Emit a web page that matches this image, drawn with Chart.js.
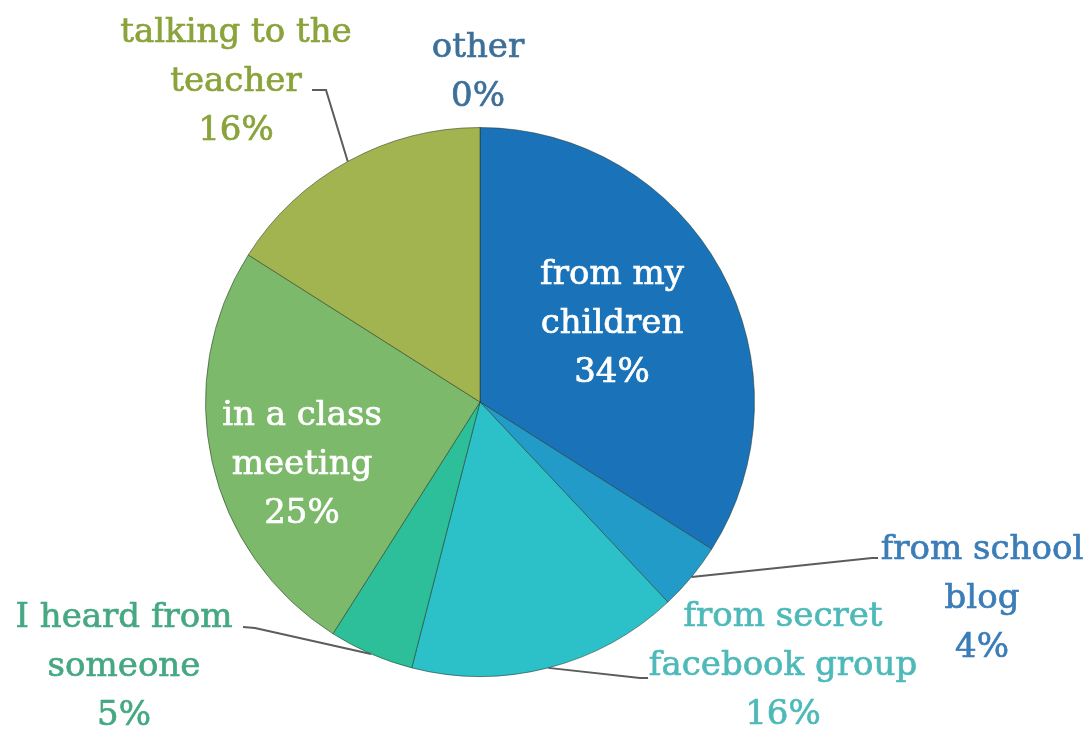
<!DOCTYPE html>
<html>
<head>
<meta charset="utf-8">
<script src="https://cdn.jsdelivr.net/npm/chart.js@4"></script>
<style>
  html, body { margin: 0; padding: 0; background: #fff; }
  canvas { display: block; }
</style>
</head>
<body>
<canvas id="pie" width="1092" height="732"></canvas>
<script>
// Data
const categories = ['from my children', 'from school blog', 'from secret facebook group',
  'I heard from someone', 'in a class meeting', 'talking to the teacher', 'other'];
const shares = [34, 4, 16, 5, 25, 16, 0];
const sliceColors = ['#1a73b9', '#229bc9', '#2cc0c8', '#2dbf99', '#7cb96a', '#a2b44f', '#2f6d9b'];

// Where each label's text goes (lines, centre x, first baseline y, colour, leader elbow)
const labelLayout = [
  { lines: ['from my', 'children', '34%'], x: 612, y: 284, color: '#ffffff' },
  { lines: ['from school', 'blog', '4%'], x: 982, y: 559, color: '#3a7db8', elbow: [[872, 558], [878, 558]] },
  { lines: ['from secret', 'facebook group', '16%'], x: 783, y: 626, color: '#4dbab9', elbow: [[640, 678], [648, 678]] },
  { lines: ['I heard from', 'someone', '5%'], x: 124, y: 627, color: '#45a882', elbow: [[255, 628], [243, 627]] },
  { lines: ['in a class', 'meeting', '25%'], x: 302, y: 425, color: '#ffffff' },
  { lines: ['talking to the', 'teacher', '16%'], x: 236, y: 42, color: '#8aa33a', elbow: [[326, 90], [312, 90]] },
  { lines: ['other', '0%'], x: 478, y: 57, color: '#3d7099' }
];

const FONT = '34px "DejaVu Serif", serif';
const LINE_HEIGHT = 49;

// Draws the data labels and leader lines after the pie
const pieLabels = {
  id: 'pieLabels',
  afterDraw(chart) {
    const ctx = chart.ctx;
    const arcs = chart.getDatasetMeta(0).data;
    ctx.save();
    labelLayout.forEach((lab, i) => {
      const arc = arcs[i];
      if (lab.elbow) {
        const mid = (arc.startAngle + arc.endAngle) / 2;
        const sx = arc.x + Math.cos(mid) * arc.outerRadius;
        const sy = arc.y + Math.sin(mid) * arc.outerRadius;
        ctx.beginPath();
        ctx.moveTo(sx, sy);
        lab.elbow.forEach(p => ctx.lineTo(p[0], p[1]));
        ctx.strokeStyle = '#5c5c5c';
        ctx.lineWidth = 2;
        ctx.stroke();
      }
      ctx.font = FONT;
      ctx.fillStyle = lab.color;
      ctx.strokeStyle = lab.color;
      ctx.lineWidth = 0.7;
      ctx.textAlign = 'center';
      ctx.textBaseline = 'alphabetic';
      lab.lines.forEach((t, k) => {
        ctx.fillText(t, lab.x, lab.y + k * LINE_HEIGHT);
        ctx.strokeText(t, lab.x, lab.y + k * LINE_HEIGHT);
      });
    });
    ctx.restore();
  }
};

new Chart(document.getElementById('pie').getContext('2d'), {
  type: 'pie',
  data: {
    labels: categories,
    datasets: [{
      data: shares,
      backgroundColor: sliceColors,
      borderColor: 'rgba(30,45,30,0.5)',
      borderWidth: 1
    }]
  },
  options: {
    responsive: false,
    animation: false,
    layout: { padding: { top: 127, bottom: 55, left: 205, right: 337 } },
    plugins: {
      legend: { display: false },
      tooltip: { enabled: false }
    }
  },
  plugins: [pieLabels]
});
</script>
</body>
</html>
